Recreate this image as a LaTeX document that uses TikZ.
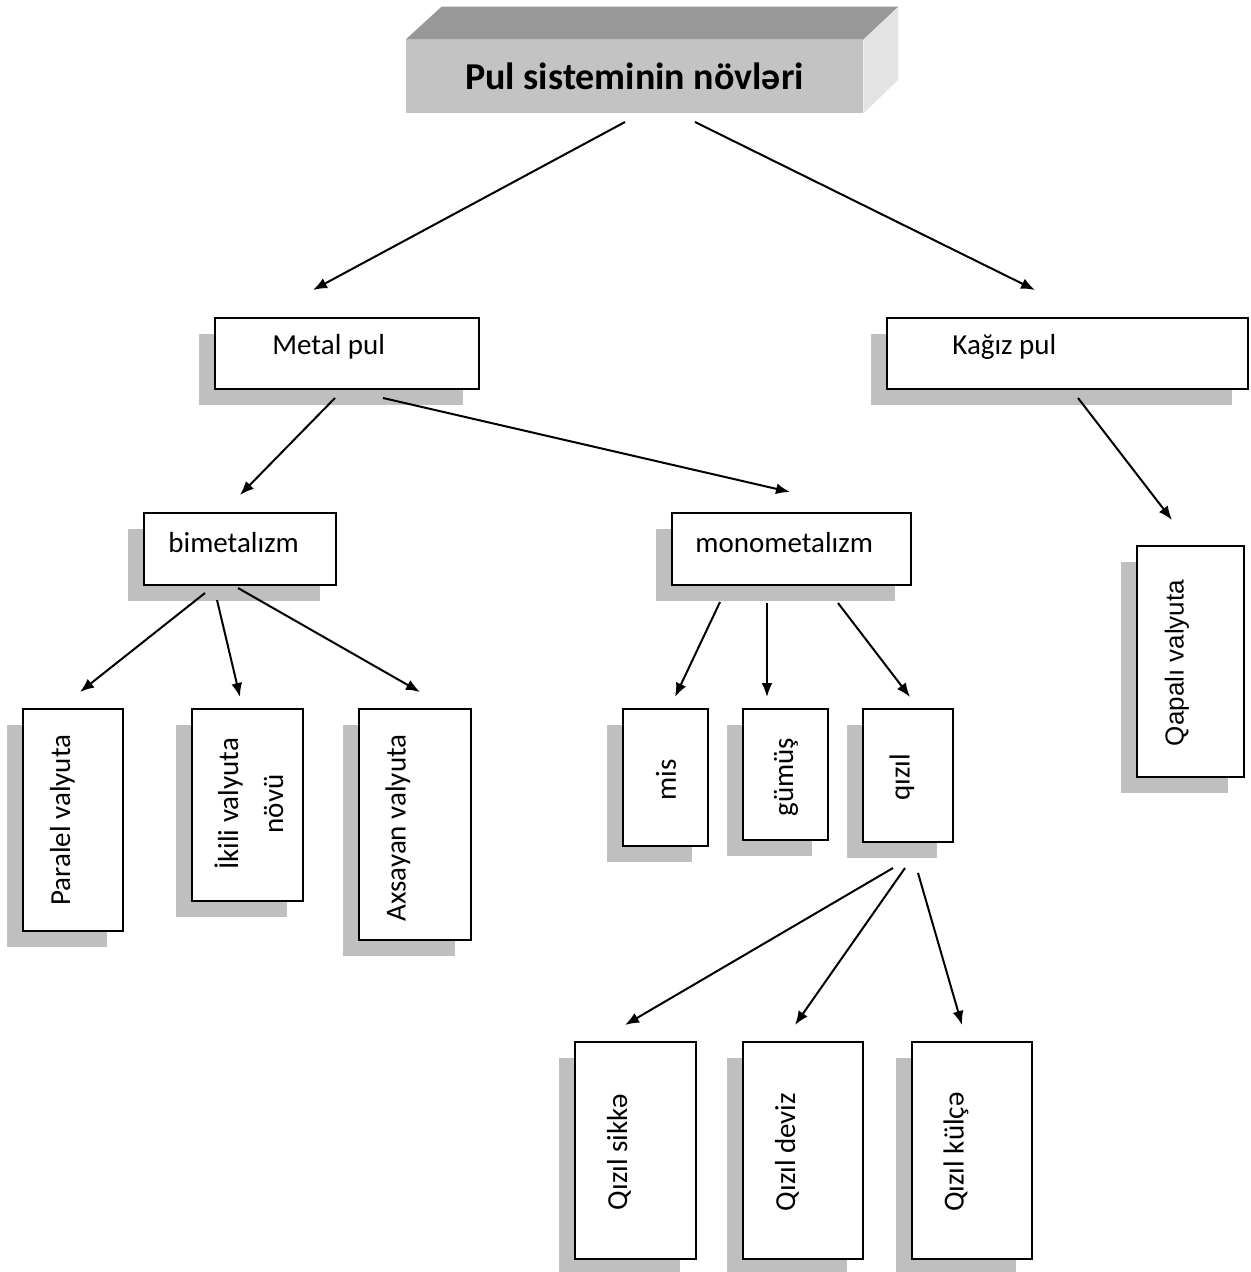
\documentclass[tikz,border=0pt]{standalone}
\usepackage{fontspec}
\setmainfont{Carlito}
\newfontfamily\arialfont{Liberation Sans}
\usetikzlibrary{arrows.meta,shadows}
\definecolor{shadowgray}{HTML}{BFBFBF}
\definecolor{frontgray}{HTML}{C3C3C3}
\definecolor{topgray}{HTML}{989898}
\definecolor{sidegray}{HTML}{E3E3E3}
\begin{document}
\begin{tikzpicture}[x=0.5pt,y=-0.5pt,
  conn/.style={line width=1pt,-{Latex[length=7pt,width=5.5pt]}},
  card/.style={draw=black,line width=0.9pt,fill=white,inner sep=0pt,
    general shadow={draw=none,fill=shadowgray,shadow xshift=-8pt,shadow yshift=-8pt}},
  lbl/.style={font=\fontsize{14.5}{17}\selectfont,inner sep=0pt},
  vlbl/.style={lbl,rotate=90,anchor=center}]
\useasboundingbox (0,0) rectangle (1250,1272);

% title block drawn as a raised slab
\node[fill=frontgray,inner sep=0pt,minimum width=228.5pt,minimum height=36.5pt,
  font=\fontsize{19}{22}\selectfont\bfseries] (title) at (634.5,76.5) {Pul sisteminin növləri};
\fill[topgray] (title.north west) -- ++(36,-33) -- ++(457,0) -- (title.north east) -- cycle;
\fill[sidegray] (title.north east) -- ++(35,-33) -- ++(0,73) -- (title.south east) -- cycle;

% second level
\node[card,minimum width=132pt,minimum height=35.5pt] (metal) at (347,353.5) {};
\node[lbl,anchor=base west] (metal-t) at (272,355) {Metal pul};
\node[card,minimum width=180.5pt,minimum height=35.5pt] (kagiz) at (1067.5,353.5) {};
\node[lbl,anchor=base west] (kagiz-t) at (952,355) {Kağız pul};

% third level
\node[card,minimum width=96pt,minimum height=36pt] (bimet) at (240,549) {};
\node[lbl,anchor=base west] (bimet-t) at (168,552) {bimetalızm};
\node[card,minimum width=119.5pt,minimum height=36pt] (mono) at (791.5,549) {};
\node[lbl,anchor=base west] (mono-t) at (695,552) {monometalızm};
\node[card,minimum width=53.5pt,minimum height=115.5pt] (qapali) at (1190.5,661.5) {};
\node[vlbl,font=\arialfont\fontsize{13}{15}\selectfont] (qapali-t) at (1177,663) {Qapalı valyuta};

% bimetallism branches
\node[card,minimum width=50pt,minimum height=111pt] (paralel) at (73,820) {};
\node[vlbl] (paralel-t) at (62.5,820) {Paralel valyuta};
\node[card,minimum width=55.5pt,minimum height=96pt] (ikili) at (247.5,805) {};
\node[vlbl,align=center,font=\fontsize{14.5}{22.5}\selectfont] (ikili-t) at (249,804) {İkili valyuta\\növü};
\node[card,minimum width=56pt,minimum height=115.5pt] (axsayan) at (415,824.5) {};
\node[vlbl] (axsayan-t) at (398,828) {Axsayan valyuta};

% monometallism branches
\node[card,minimum width=42.5pt,minimum height=68.5pt] (mis) at (665.5,777.5) {};
\node[vlbl] (mis-t) at (666,780) {mis};
\node[card,minimum width=42.5pt,minimum height=65.5pt] (gumus) at (785.5,774.5) {};
\node[vlbl] (gumus-t) at (786,777) {gümüş};
\node[card,minimum width=45pt,minimum height=66.5pt] (qizil) at (908,775.5) {};
\node[vlbl] (qizil-t) at (902,777) {qızıl};

% gold standard forms
\node[card,minimum width=60.5pt,minimum height=108.5pt] (sikke) at (635.5,1150.5) {};
\node[vlbl] (sikke-t) at (619,1152) {Qızıl sikkə};
\node[card,minimum width=60pt,minimum height=108.5pt] (deviz) at (803,1150.5) {};
\node[vlbl] (deviz-t) at (787,1152) {Qızıl deviz};
\node[card,minimum width=60pt,minimum height=108.5pt] (kulce) at (972,1150.5) {};
\node[vlbl] (kulce-t) at (956,1152) {Qızıl külçə};

% connector ends
\coordinate (t-l) at (625,122);   \coordinate (metal-in) at (313,290);
\coordinate (t-r) at (695,122);   \coordinate (kagiz-in) at (1035,290);
\coordinate (metal-l) at (335,398); \coordinate (bimet-in) at (240,495);
\coordinate (metal-r) at (383,398); \coordinate (mono-in) at (790,492);
\coordinate (kagiz-o) at (1078,398); \coordinate (qapali-in) at (1172,520);
\coordinate (bimet-a) at (205,593); \coordinate (paralel-in) at (80,692);
\coordinate (bimet-b) at (217,600); \coordinate (ikili-in) at (240,697);
\coordinate (bimet-c) at (238,588); \coordinate (axsayan-in) at (420,692);
\coordinate (mono-a) at (720,602); \coordinate (mis-in) at (675,697);
\coordinate (mono-b) at (767,603); \coordinate (gumus-in) at (767,697);
\coordinate (mono-c) at (838,603); \coordinate (qizil-in) at (910,697);
\coordinate (qizil-a) at (893,868); \coordinate (sikke-in) at (625,1025);
\coordinate (qizil-b) at (905,868); \coordinate (deviz-in) at (795,1025);
\coordinate (qizil-c) at (918,873); \coordinate (kulce-in) at (962,1025);

\draw[conn] (t-l) -- (metal-in);
\draw[conn] (t-r) -- (kagiz-in);
\draw[conn] (metal-l) -- (bimet-in);
\draw[conn] (metal-r) -- (mono-in);
\draw[conn] (kagiz-o) -- (qapali-in);
\draw[conn] (bimet-a) -- (paralel-in);
\draw[conn] (bimet-b) -- (ikili-in);
\draw[conn] (bimet-c) -- (axsayan-in);
\draw[conn] (mono-a) -- (mis-in);
\draw[conn] (mono-b) -- (gumus-in);
\draw[conn] (mono-c) -- (qizil-in);
\draw[conn] (qizil-a) -- (sikke-in);
\draw[conn] (qizil-b) -- (deviz-in);
\draw[conn] (qizil-c) -- (kulce-in);
\end{tikzpicture}
\end{document}
